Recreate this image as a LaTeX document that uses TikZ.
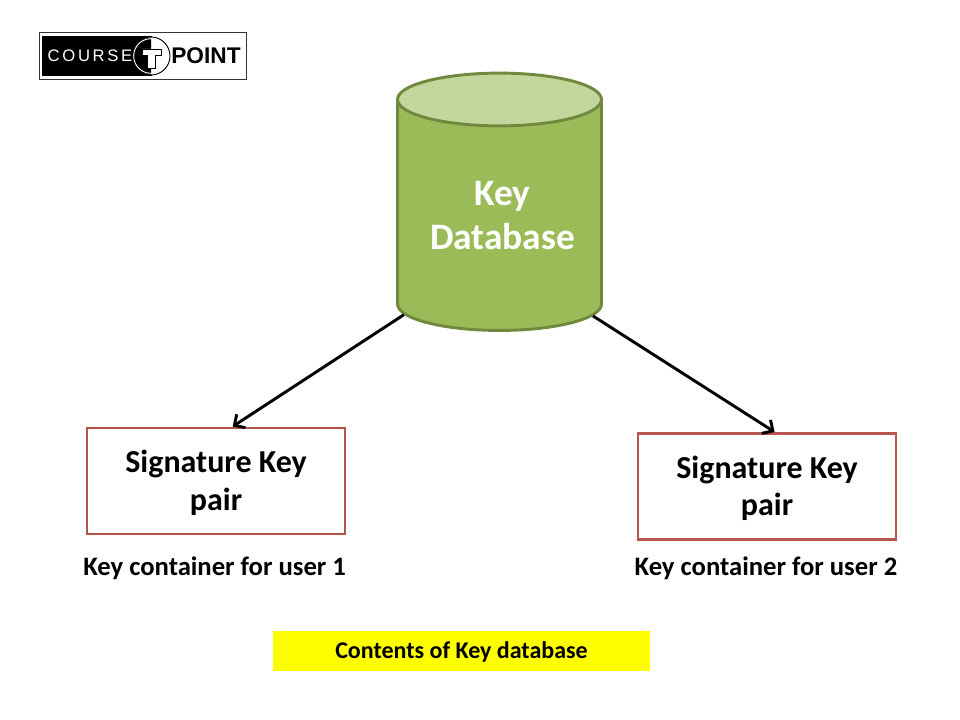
\documentclass[tikz,border=0pt]{standalone}
\usepackage{xcolor}
\usepackage{fontspec}
\setmainfont{Carlito}
\newfontfamily\logofont{Liberation Sans}
\usetikzlibrary{arrows.meta,calc,positioning,shapes.geometric}
\definecolor{dbfill}{HTML}{9BBB59}
\definecolor{dbtop}{HTML}{C3D69B}
\definecolor{dbline}{HTML}{71893F}
\definecolor{boxline}{HTML}{B85450}
\definecolor{titlefill}{RGB}{255,255,0}
\newcommand{\sigstrut}{\rule{0pt}{19.5pt}}

\begin{document}
\begin{tikzpicture}[x=0.75pt,y=-0.75pt,>={Straight Barb[length=6pt,width=12pt]},semithick,node distance=65.2pt]
	\tikzstyle{db}=[draw=dbline, line width=2.2pt, shape=cylinder, shape border rotate=90, aspect=0.35, cylinder uses custom fill, cylinder body fill=dbfill, cylinder end fill=dbtop, minimum width=153pt, minimum height=193pt, inner sep=0pt, text=white, align=center, font=\bfseries\fontsize{28}{33}\selectfont]
	\tikzstyle{sig}=[draw=boxline, line width=2.2pt, minimum width=193.5pt, minimum height=79.5pt, inner sep=0pt, align=center, font=\bfseries\fontsize{24}{28}\selectfont]
	\tikzstyle{capt}=[inner sep=0pt, font=\bfseries\fontsize{20}{24}\selectfont]
	\useasboundingbox[fill=white] (0,0) rectangle (960,720);

	% logo
	\node[draw=black!80, line width=1pt, minimum width=155.5pt, minimum height=35.5pt, inner sep=0pt] (logo) at (143,56) {};
	\fill[black] (42,36.5) rectangle (152,76.5);
	\node[circle, draw=black, fill=white, line width=0.7pt, minimum size=28.5pt, inner sep=0pt] (logoc) at (151,56) {};
	\fill[black] (logoc.south) arc[start angle=-90, end angle=-270, radius=14.25pt] -- cycle;
	\draw[white, line width=0.7pt] (logoc) circle[radius=13pt];
	\node[text=white, inner sep=0pt, font=\logofont\fontsize{12.5}{14}\selectfont] (logol) at (90,56) {C\kern2pt O\kern2pt U\kern2pt R\kern2pt S\kern2pt E};
	\node[text=black, inner sep=0pt, font=\logofont\bfseries\fontsize{17}{18}\selectfont] (logor) at (206,56) {POINT};
	\fill[white,draw=black,line width=0.6pt] (142,49) -- (161,49) -- (161,55) -- (155,55) -- (155,68) -- (147,68) -- (147,55) -- (142,55) -- cycle;

	\node[db] (kdb) at (499.5,215.7) {\hspace*{4.5pt}Key\\\hspace*{4.5pt}Database};

	\node[sig] (s1) at (216,481) {\sigstrut Signature Key\\pair};
	\node[sig] (s2) at (767,486.5) {\sigstrut Signature Key\\pair};

	\node[capt,xshift=-1pt] (c1) [below of=s1] {Key container for user 1};
	\node[capt] (c2) at (766,568) {Key container for user 2};

	\node[fill=titlefill, minimum width=282.5pt, minimum height=30pt, inner sep=0pt, text height=14.7pt, font=\bfseries\fontsize{18}{20}\selectfont] (title) at (461.5,651) {Contents of Key database};

	\path[line width=2.2pt,black]
		(kdb.226.7) edge[->] (s1.73)
		(kdb.313.3) edge[->] (s2.82);
\end{tikzpicture}
\end{document}
